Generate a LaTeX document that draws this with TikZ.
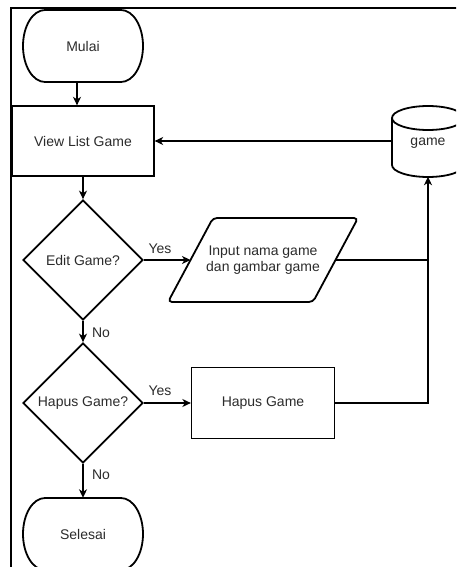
\documentclass[tikz,border=0pt]{standalone}
\usepackage{fontspec}
\setmainfont{Liberation Sans}
\usetikzlibrary{arrows.meta,shapes.geometric,calc}

\definecolor{ink}{HTML}{000000}
\definecolor{txt}{HTML}{2B2B2B}

\tikzset{
  base/.style={font=\fontsize{14}{16}\selectfont, text=txt, align=center, inner sep=0pt},
  thickline/.style={draw=ink, line width=1.8pt},
  thinline/.style={draw=ink, line width=1.3pt},
  process/.style={base, thinline, rectangle, minimum width=142pt, minimum height=70pt},
  decision/.style={base, thickline, diamond, minimum width=120pt, minimum height=120pt},
  textonly/.style={base, minimum width=120pt, minimum height=72pt},
  flow/.style={thinline, -{Stealth[length=8.5pt,width=8pt,inset=2.5pt]}},
  plain/.style={thinline},
  lbl/.style={base}
}

% terminator outline: flat top/bottom with elliptic ends, drawn around a node
\newcommand\termoutline[1]{%
  \draw[thickline, shift={(#1.center)}]
    (-38,-36) -- (38,-36)
    .. controls (50.15,-36) and (60,-19.9) .. (60,0)
    .. controls (60,19.9) and (50.15,36) .. (38,36)
    -- (-38,36)
    .. controls (-50.15,36) and (-60,19.9) .. (-60,0)
    .. controls (-60,-19.9) and (-50.15,-36) .. (-38,-36) -- cycle;}

\begin{document}
\begin{tikzpicture}[x=1pt, y=-1pt]
  \useasboundingbox (0,0) rectangle (456,567);
  \clip (0,0) rectangle (456,567);

  % outer frame
  \draw[line width=2pt, draw=ink] (11,8.3) rectangle (490,600);

  % nodes
  \node[textonly] (mulai) at (83,46) {Mulai};
  \termoutline{mulai}

  \node[process] (view) at (83,141) {View List Game};

  % database cylinder
  \node[base, minimum width=72pt, minimum height=71pt] (db) at (428,141) {};
  \node[base] (dbtext) at (428,143) {game};
  \begin{scope}[shift={(db.center)}]
    \draw[thickline] (0,-23) ellipse [x radius=36, y radius=12];
    \draw[thickline] (-36,-23) -- (-36,24)
      .. controls (-36,30.6) and (-19.9,36) .. (0,36)
      .. controls (19.9,36) and (36,30.6) .. (36,24) -- (36,-23);
  \end{scope}

  \node[decision] (edit) at (83,260) {Edit Game?};

  \node[base] (input) at (263,260) {Input nama game\\dan gambar game};
  \draw[thickline, rounded corners=4pt, shift={(input.center)}]
    (-50,-42) -- (95,-42) -- (50,42) -- (-95,42) -- cycle;
  \coordinate (inW) at ($(input.center)+(-72.5,0)$);
  \coordinate (inE) at ($(input.center)+(72.5,0)$);

  \node[decision] (hapusq) at (83,403) {Hapus Game?};

  \node[process, minimum width=143pt, minimum height=71pt] (hapus) at (263,403) {Hapus Game};

  \node[textonly] (selesai) at (83,534) {Selesai};
  \termoutline{selesai}

  \coordinate (j1) at (db.center |- input.center);
  \coordinate (j2) at (db.center |- hapus.center);

  % connectors
  \draw[flow] ([xshift=-6pt]mulai.south) -- ([xshift=-6pt]mulai.south |- view.north);
  \draw[flow] (db.west) -- (view.east);
  \draw[flow] (view.south) -- (edit.north);
  \draw[flow] (edit.east) -- (inW);
  \draw[plain] (inE) -- (j1);
  \draw[flow] (hapus.east) -- (j2) -- (db.south);
  \draw[flow] (edit.south) -- (hapusq.north);
  \draw[flow] (hapusq.east) -- (hapus.west);
  \draw[flow] (hapusq.south) -- (selesai.north);

  % branch labels
  \node[lbl] (yes1) at (160,249) {Yes};
  \node[lbl] (no1) at (101,333) {No};
  \node[lbl] (yes2) at (160,391) {Yes};
  \node[lbl] (no2) at (101,475) {No};
\end{tikzpicture}
\end{document}
